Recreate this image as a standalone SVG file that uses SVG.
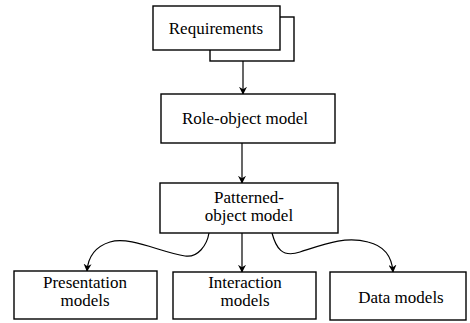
<svg xmlns="http://www.w3.org/2000/svg" width="470" height="323" viewBox="0 0 470 323">
  <style>
    .box { fill: #fff; stroke: #000; stroke-width: 1.4; }
    .lbl { font-family: 'Liberation Serif', 'Times New Roman', 'DejaVu Serif', serif; font-size: 17px; fill: #000; text-anchor: middle; }
    .edge { fill: none; stroke: #000; stroke-width: 1.2; marker-end: url(#arrow); }
  </style>
  <defs>
    <marker id="arrow" viewBox="0 0 10 10" refX="9" refY="5" markerWidth="8" markerHeight="8" markerUnits="userSpaceOnUse" orient="auto">
      <path d="M0,0 L10,5 L0,10 L3,5 z" fill="#000"/>
    </marker>
  </defs>
  <rect width="470" height="323" fill="#fff"/>

  <g id="connectors">
    <line class="edge" x1="243" y1="61" x2="243" y2="94"/>
    <line class="edge" x1="242" y1="143" x2="242" y2="183"/>
    <line class="edge" x1="242" y1="233" x2="242" y2="272"/>
    <path class="edge" d="M209,233 C207,245 198,258 185,256 C160,252 130,236 110,242 C94,247 88,258 87,271"/>
    <path class="edge" d="M272,233 C276,248 282,258 300,252 C325,244 345,236 368,242 C385,246 392,258 393,272"/>
  </g>

  <g id="requirements">
    <rect class="box" x="210" y="17" width="84" height="44"/>
    <rect class="box" x="153" y="6" width="127" height="44"/>
    <text class="lbl" x="216" y="34" font-family="Liberation Serif, serif">Requirements</text>
  </g>

  <g id="role-object-model">
    <rect class="box" x="161" y="94" width="174" height="49"/>
    <text class="lbl" x="245" y="124" font-family="Liberation Serif, serif">Role-object model</text>
  </g>

  <g id="patterned-object-model">
    <rect class="box" x="160" y="183" width="178" height="50"/>
    <text class="lbl" x="249" y="203" font-family="Liberation Serif, serif">Patterned-</text>
    <text class="lbl" x="249" y="221" font-family="Liberation Serif, serif">object model</text>
  </g>

  <g id="presentation-models">
    <rect class="box" x="14" y="271" width="143" height="48"/>
    <text class="lbl" x="85" y="288" font-family="Liberation Serif, serif">Presentation</text>
    <text class="lbl" x="85" y="306" font-family="Liberation Serif, serif">models</text>
  </g>

  <g id="interaction-models">
    <rect class="box" x="173" y="272" width="143" height="47"/>
    <text class="lbl" x="245" y="288" font-family="Liberation Serif, serif">Interaction</text>
    <text class="lbl" x="245" y="306" font-family="Liberation Serif, serif">models</text>
  </g>

  <g id="data-models">
    <rect class="box" x="330" y="272" width="136" height="48"/>
    <text class="lbl" x="401" y="303" font-family="Liberation Serif, serif">Data models</text>
  </g>
</svg>
